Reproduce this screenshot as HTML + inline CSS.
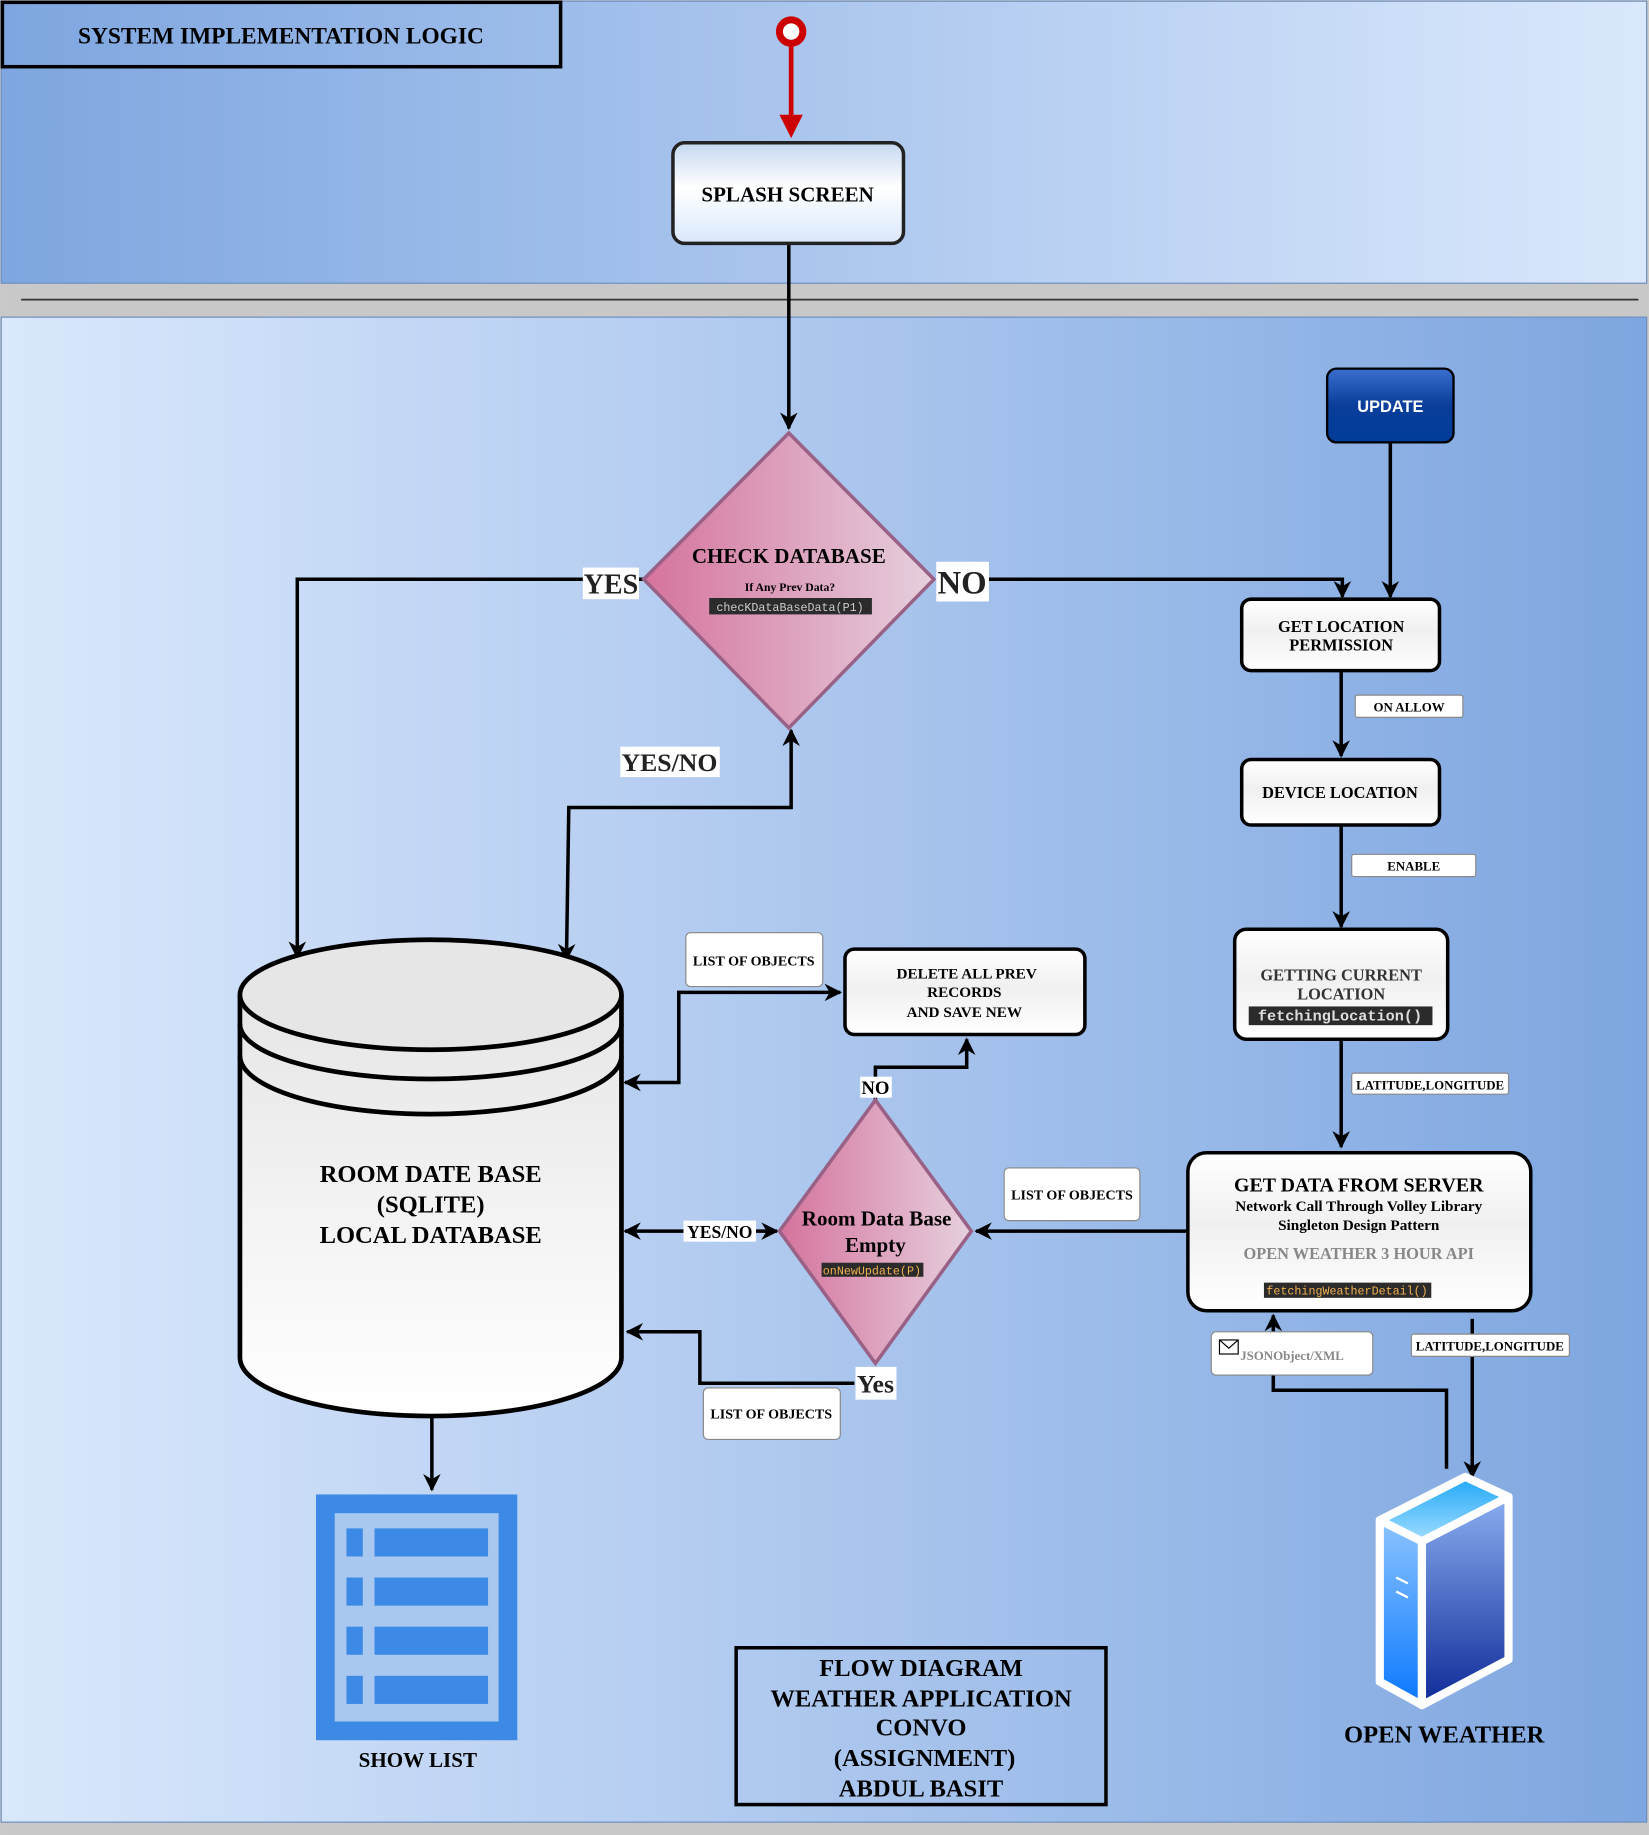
<!DOCTYPE html>
<html><head><meta charset="utf-8"><style>html,body{margin:0;padding:0;background:#fff}svg{display:block}</style></head>
<body>
<svg width="1649" height="1835" viewBox="0 0 1409 1568" xmlns="http://www.w3.org/2000/svg" font-family="Liberation Serif, serif">
<defs>
<linearGradient id="top" x1="0" x2="1"><stop offset="0" stop-color="#7ea6e0"/><stop offset="1" stop-color="#dae8fc"/></linearGradient>
<linearGradient id="bot" x1="0" x2="1"><stop offset="0" stop-color="#dae8fc"/><stop offset="1" stop-color="#7ea6e0"/></linearGradient>
<linearGradient id="pink" x1="0" x2="1"><stop offset="0" stop-color="#d5739d"/><stop offset="1" stop-color="#e6d0de"/></linearGradient>
<linearGradient id="splash" x1="0" y1="0" x2="0" y2="1"><stop offset="0" stop-color="#c5d8f0"/><stop offset="0.45" stop-color="#ffffff"/><stop offset="1" stop-color="#dae8fc"/></linearGradient>
<linearGradient id="wbox" x1="0" y1="0" x2="0" y2="1"><stop offset="0" stop-color="#ffffff"/><stop offset="0.45" stop-color="#f0f0f0"/><stop offset="1" stop-color="#ffffff"/></linearGradient>
<linearGradient id="upd" x1="0" y1="0" x2="0" y2="1"><stop offset="0" stop-color="#3b6fd0"/><stop offset="0.5" stop-color="#0a3e9a"/><stop offset="1" stop-color="#003c99"/></linearGradient>
<linearGradient id="cyl" x1="0" y1="0" x2="0" y2="1"><stop offset="0" stop-color="#e6e6e6"/><stop offset="1" stop-color="#ffffff"/></linearGradient>
<linearGradient id="srvL" x1="0" y1="0" x2="0" y2="1"><stop offset="0" stop-color="#8cc4ff"/><stop offset="1" stop-color="#0a78ff"/></linearGradient>
<linearGradient id="srvR" x1="0" y1="0" x2="0" y2="1"><stop offset="0" stop-color="#8aaef0"/><stop offset="1" stop-color="#0e2a98"/></linearGradient>
<linearGradient id="srvT" x1="0" y1="0" x2="0" y2="1"><stop offset="0" stop-color="#20a8f8"/><stop offset="1" stop-color="#a0dcff"/></linearGradient>
<marker id="ar" viewBox="0 0 10 10" refX="9" refY="5" markerWidth="5" markerHeight="5" orient="auto-start-reverse"><path d="M0,0 L10,5 L0,10 L3,5 z" fill="#000"/></marker>
</defs>
<rect x="0" y="0" width="1409" height="1568" fill="#c8c8c8"/>
<rect x="1" y="1" width="1406" height="241" fill="url(#top)" stroke="#6c8ebf"/>
<line x1="18" y1="256" x2="1400" y2="256" stroke="#333" stroke-width="1.5"/>
<rect x="1" y="271" width="1406" height="1286" fill="url(#bot)" stroke="#6c8ebf"/>
<rect x="2" y="2" width="477" height="55" fill="none" stroke="#000" stroke-width="3"/>
<text x="240" y="37" font-size="20" font-weight="bold" text-anchor="middle">SYSTEM IMPLEMENTATION LOGIC</text>

<g fill="none" stroke="#000" stroke-width="3">
<line x1="676" y1="36" x2="676" y2="112" stroke="#c00" stroke-width="4"/>
<line x1="674" y1="208" x2="674" y2="366" marker-end="url(#ar)"/>
<polyline points="550,495 254,495 254,818" marker-end="url(#ar)"/>
<polyline points="845,495 1147,495 1147,510" marker-end="url(#ar)"/>
<line x1="1188" y1="378" x2="1188" y2="510" marker-end="url(#ar)"/>
<line x1="1146" y1="573" x2="1146" y2="646" marker-end="url(#ar)"/>
<line x1="1146" y1="705" x2="1146" y2="792" marker-end="url(#ar)"/>
<line x1="1146" y1="888" x2="1146" y2="980" marker-end="url(#ar)"/>
<line x1="1015" y1="1052" x2="834" y2="1052" marker-end="url(#ar)"/>
<line x1="664" y1="1052" x2="534" y2="1052" marker-start="url(#ar)" marker-end="url(#ar)"/>
<polyline points="748,940 748,912 826,912 826,888" marker-end="url(#ar)"/>
<polyline points="534,925 580,925 580,848 718,848" marker-start="url(#ar)" marker-end="url(#ar)"/>
<polyline points="730,1182 598,1182 598,1138 536,1138" marker-end="url(#ar)"/>
<polyline points="484,820 486,690 676,690 676,624" marker-start="url(#ar)" marker-end="url(#ar)"/>
<line x1="369" y1="1210" x2="369" y2="1273" marker-end="url(#ar)"/>
<polyline points="1236,1255 1236,1188 1088,1188 1088,1124" marker-end="url(#ar)"/>
<line x1="1258" y1="1127" x2="1258" y2="1262" marker-end="url(#ar)"/>
</g>
<circle cx="676" cy="27" r="10" fill="#fff" stroke="#c00" stroke-width="6"/>
<path d="M666,98 L686,98 L676,118 z" fill="#c00"/>

<rect x="575" y="122" width="197" height="86" rx="10" fill="url(#splash)" stroke="#222" stroke-width="3"/>
<text x="673" y="172" font-size="18" font-weight="bold" text-anchor="middle">SPLASH SCREEN</text>

<polygon points="674,370 798,495 674,622 550,495" fill="url(#pink)" stroke="#996185" stroke-width="3"/>
<text x="674" y="481" font-size="18" font-weight="bold" text-anchor="middle">CHECK DATABASE</text>
<text x="675" y="505" font-size="10" font-weight="bold" text-anchor="middle">If Any Prev Data?</text>
<rect x="606" y="511" width="139" height="14" fill="#2b2b2b"/>
<text x="675" y="522" font-size="10" font-family="Liberation Mono, monospace" fill="#ccc" text-anchor="middle">checKDataBaseData(P1)</text>

<rect x="498" y="485" width="48" height="27" fill="#fff"/>
<text x="522" y="507" font-size="24" font-weight="bold" text-anchor="middle" fill="#222">YES</text>
<rect x="800" y="480" width="45" height="34" fill="#fff"/>
<text x="822" y="507" font-size="28" font-weight="bold" text-anchor="middle" fill="#222">NO</text>
<rect x="530" y="638" width="85" height="26" fill="#fff"/>
<text x="572" y="659" font-size="22" font-weight="bold" text-anchor="middle" fill="#222">YES/NO</text>

<rect x="1134" y="315" width="108" height="63" rx="8" fill="url(#upd)" stroke="#000" stroke-width="2"/>
<text x="1188" y="352" font-size="14" font-weight="bold" font-family="Liberation Sans, sans-serif" fill="#fff" text-anchor="middle">UPDATE</text>

<g stroke="#000" stroke-width="3" fill="url(#wbox)">
<rect x="1061" y="512" width="169" height="61" rx="8"/>
<rect x="1061" y="649" width="169" height="56" rx="8"/>
<rect x="1055" y="794" width="182" height="94" rx="10"/>
<rect x="1015" y="985" width="293" height="135" rx="16"/>
<rect x="722" y="811" width="205" height="73" rx="8"/>
</g>
<text font-size="14" font-weight="bold" text-anchor="middle"><tspan x="1146" y="540">GET LOCATION</tspan><tspan x="1146" y="556">PERMISSION</tspan></text>
<text x="1145" y="682" font-size="14" font-weight="bold" text-anchor="middle">DEVICE LOCATION</text>
<text font-size="14" font-weight="bold" text-anchor="middle" fill="#333"><tspan x="1146" y="838">GETTING CURRENT</tspan><tspan x="1146" y="854">LOCATION</tspan></text>
<rect x="1067" y="860" width="157" height="16" fill="#2b2b2b"/>
<text x="1145" y="872" font-size="13" font-weight="bold" font-family="Liberation Mono, monospace" fill="#ddd" text-anchor="middle">fetchingLocation()</text>
<text font-size="13" font-weight="bold" text-anchor="middle"><tspan x="826" y="836">DELETE ALL PREV</tspan><tspan x="824" y="852">RECORDS</tspan><tspan x="824" y="869">AND SAVE NEW</tspan></text>
<text x="1161" y="1018" font-size="17" font-weight="bold" text-anchor="middle">GET DATA FROM SERVER</text>
<text x="1161" y="1035" font-size="13" font-weight="bold" text-anchor="middle">Network Call Through Volley Library</text>
<text x="1161" y="1051" font-size="13" font-weight="bold" text-anchor="middle">Singleton Design Pattern</text>
<text x="1161" y="1076" font-size="14" font-weight="bold" fill="#888" text-anchor="middle">OPEN WEATHER 3 HOUR API</text>
<rect x="1080" y="1096" width="143" height="13" fill="#2b2b2b"/>
<text x="1151" y="1106" font-size="10" font-family="Liberation Mono, monospace" fill="#f0b050" text-anchor="middle">fetchingWeatherDetail()</text>

<g fill="#fff" stroke="#888" stroke-width="1">
<rect x="1158" y="594" width="92" height="19" rx="2"/>
<rect x="1155" y="730" width="106" height="19" rx="2"/>
<rect x="1155" y="917" width="134" height="18" rx="2"/>
<rect x="1206" y="1140" width="135" height="19" rx="2"/>
<rect x="1035" y="1138" width="138" height="37" rx="4"/>
<rect x="858" y="998" width="116" height="45" rx="4"/>
<rect x="586" y="797" width="117" height="46" rx="4"/>
<rect x="601" y="1186" width="117" height="44" rx="4"/>
</g>
<g font-size="11" font-weight="bold" text-anchor="middle">
<text x="1204" y="608">ON ALLOW</text>
<text x="1208" y="744">ENABLE</text>
<text x="1222" y="931">LATITUDE,LONGITUDE</text>
<text x="1273" y="1154">LATITUDE,LONGITUDE</text>
<text x="916" y="1025" font-size="12">LIST OF OBJECTS</text>
<text x="644" y="825" font-size="12">LIST OF OBJECTS</text>
<text x="659" y="1212" font-size="12">LIST OF OBJECTS</text>
<text x="1104" y="1162" fill="#888" font-size="11">JSONObject/XML</text>
</g>
<rect x="1042" y="1145" width="16" height="12" fill="#fff" stroke="#000"/>
<path d="M1042,1145 L1050,1152 L1058,1145" fill="none" stroke="#000"/>

<polygon points="748,940 830,1052 748,1165 666,1052" fill="url(#pink)" stroke="#996185" stroke-width="3"/>
<text x="749" y="1047" font-size="18" font-weight="bold" text-anchor="middle">Room Data Base</text>
<text x="748" y="1070" font-size="18" font-weight="bold" text-anchor="middle">Empty</text>
<rect x="702" y="1079" width="87" height="12" fill="#2b2b2b"/>
<text x="745" y="1089" font-size="10" font-family="Liberation Mono, monospace" fill="#f0b050" text-anchor="middle">onNewUpdate(P)</text>
<rect x="584" y="1043" width="62" height="18" fill="#fff"/>
<text x="615" y="1058" font-size="15" font-weight="bold" text-anchor="middle">YES/NO</text>
<rect x="735" y="920" width="27" height="18" fill="#fff"/>
<text x="748" y="935" font-size="16" font-weight="bold" text-anchor="middle">NO</text>
<rect x="731" y="1168" width="35" height="28" fill="#fff"/>
<text x="748" y="1190" font-size="22" font-weight="bold" text-anchor="middle" fill="#222">Yes</text>

<g stroke="#000" stroke-width="4">
<path d="M205,850 L205,1160 A163,50 0 0 0 531,1160 L531,850" fill="url(#cyl)"/>
<ellipse cx="368" cy="850" rx="163" ry="47" fill="#e6e6e6"/>
<path d="M205,875 A163,47 0 0 0 531,875" fill="none"/>
<path d="M205,902 A163,50 0 0 0 531,902" fill="none"/>
</g>
<text font-size="21" font-weight="bold" text-anchor="middle"><tspan x="368" y="1010">ROOM DATE BASE</tspan><tspan x="368" y="1036">(SQLITE)</tspan><tspan x="368" y="1062">LOCAL DATABASE</tspan></text>

<rect x="270" y="1277" width="172" height="210" fill="#3d8ae6"/>
<rect x="286" y="1293" width="140" height="178" fill="#a8c8f0"/>
<g fill="#3d8ae6">
<rect x="296" y="1306" width="14" height="24"/><rect x="320" y="1306" width="97" height="24"/>
<rect x="296" y="1348" width="14" height="24"/><rect x="320" y="1348" width="97" height="24"/>
<rect x="296" y="1390" width="14" height="24"/><rect x="320" y="1390" width="97" height="24"/>
<rect x="296" y="1432" width="14" height="24"/><rect x="320" y="1432" width="97" height="24"/>
</g>
<text x="357" y="1510" font-size="18" font-weight="bold" text-anchor="middle">SHOW LIST</text>

<rect x="629" y="1408" width="316" height="134" fill="none" stroke="#000" stroke-width="3"/>
<text font-size="21" font-weight="bold" text-anchor="middle"><tspan x="787" y="1432">FLOW DIAGRAM</tspan><tspan x="787" y="1458">WEATHER APPLICATION</tspan><tspan x="787" y="1483">CONVO</tspan><tspan x="790" y="1509">(ASSIGNMENT)</tspan><tspan x="787" y="1535">ABDUL BASIT</tspan></text>

<g stroke="#fff" stroke-width="7" stroke-linejoin="round">
<polygon points="1179,1299 1215,1317 1215,1457 1179,1437" fill="url(#srvL)"/>
<polygon points="1215,1317 1289,1279 1289,1418 1215,1457" fill="url(#srvR)"/>
<polygon points="1179,1299 1252,1262 1289,1279 1215,1317" fill="url(#srvT)"/>
</g>
<path d="M1193,1348 L1203,1353 M1193,1360 L1203,1365" stroke="#fff" stroke-width="2"/>
<text x="1234" y="1489" font-size="21" font-weight="bold" text-anchor="middle">OPEN WEATHER</text>
</svg>
</body></html>
